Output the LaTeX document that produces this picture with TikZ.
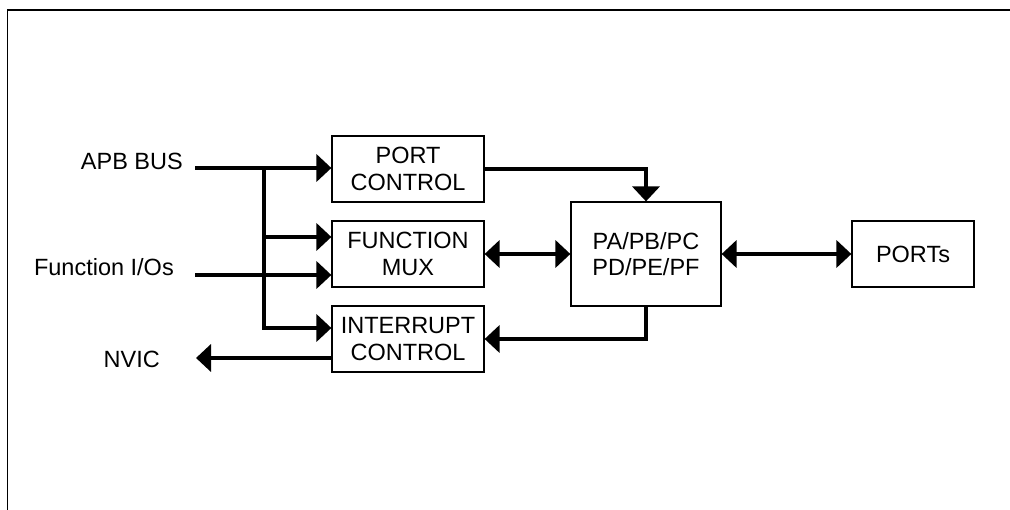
\documentclass[tikz,border=0pt]{standalone}
\usepackage{fontspec}
\setmainfont{Liberation Sans}
\usetikzlibrary{arrows.meta}

\begin{document}
\begin{tikzpicture}[x=1pt, y=-1pt,
        font=\fontsize{23.5}{26.5}\selectfont,
        block/.style={draw, line width=1.2pt, align=center, inner sep=0pt},
        label/.style={inner sep=0pt, anchor=base east},
        wire/.style={line width=4pt, -{Triangle[length=15pt, width=27pt]}},
        duplex/.style={line width=4pt, {Triangle[length=15pt, width=27pt]}-{Triangle[length=15pt, width=27pt]}},
        busline/.style={line width=4pt}]
\useasboundingbox (0,0) rectangle (1010,510);
\draw[line width=1.6pt] (7.5,510) -- (7.5,10) -- (1010,10);

\node[block, minimum width=152pt, minimum height=66pt] (portctrl) at (408,169) {PORT\\CONTROL};
\node[block, minimum width=152pt, minimum height=66pt] (funcmux) at (408,254) {FUNCTION\\MUX};
\node[block, minimum width=152pt, minimum height=66pt] (intctrl) at (408,339) {INTERRUPT\\CONTROL};
\node[block, minimum width=150pt, minimum height=104pt] (pabox) at (646,254) {PA/PB/PC\\PD/PE/PF};
\node[block, minimum width=122pt, minimum height=66pt] (ports) at (913,254) {PORTs};

\node[label] (apb) at (183,170) {APB BUS};
\node[label] (fio) at (174,276) {Function I/Os};
\node[label] (nvic) at (160,368) {NVIC};

\coordinate (apbin) at (195,168);
\coordinate (fioin) at (195,275);
\coordinate (nvicout) at (196,358);
\coordinate (bustop) at (264,168);
\coordinate (busmux) at (264,237);

% APB bus and its branches
\draw[wire] (apbin) -- (apbin -| portctrl.west);
\draw[busline] (bustop) -- (264,330);
\draw[wire] (busmux) -- ([yshift=17pt]funcmux.west);
\draw[wire] (264,328) -- ([yshift=11pt]intctrl.west);
\draw[wire] (fioin) -- ([yshift=-21pt]funcmux.west);
\draw[wire] ([yshift=-19pt]intctrl.west) -- (nvicout);

% port block
\draw[wire] (portctrl.east) -| (pabox.north);
\draw[wire] (pabox.south) |- (intctrl.east);
\draw[duplex] (funcmux.east) -- (pabox.west);
\draw[duplex] (pabox.east) -- (ports.west);
\end{tikzpicture}
\end{document}
